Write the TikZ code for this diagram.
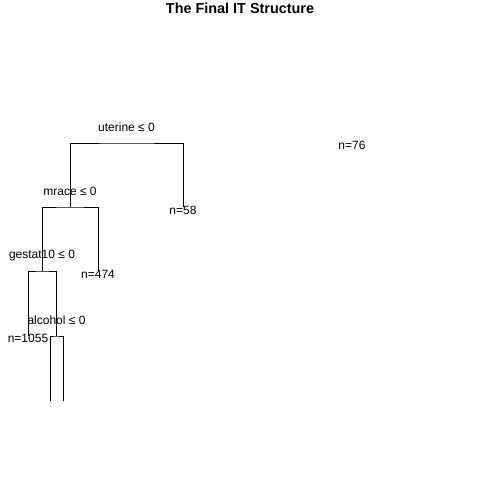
\documentclass[tikz,border=0pt]{standalone}
\usepackage{fontspec}
\setmainfont{Liberation Sans}
\usetikzlibrary{calc}

\tikzset{
  splitlbl/.style={inner sep=0pt},
  leaflbl/.style={inner sep=0pt}
}

\begin{document}
\begin{tikzpicture}[x=1pt,y=-1pt,font=\fontsize{12}{14}\selectfont]
    \useasboundingbox (0,0) rectangle (480,480);
    \node[font=\fontsize{14.4}{17}\selectfont\bfseries] (title) at (240,8.5) {The Final IT Structure};
    % split points and ends
    \coordinate (ut) at (126.5,143);
    \coordinate (mr) at (70,207);
    \coordinate (ge) at (42,271);
    \coordinate (al) at (56,336);
    \coordinate (e58) at (183,207);
    \coordinate (e474) at (98,271);
    \coordinate (e1055) at (28,336);
    \coordinate (eL) at (50,401);
    \coordinate (eR) at (63,401);
    \draw (mr) |- (ut) -| (e58);
    \draw (ge) |- (mr) -| (e474);
    \draw (e1055) |- (ge) -| (al);
    \draw (eL) |- (al) -| (eR);
    % split labels
    \node[splitlbl] (uterine) at ($(ut)+(0,-16)$) {uterine ≤ 0};
    \node[splitlbl] (mrace) at ($(mr)+(0,-15.5)$) {mrace ≤ 0};
    \node[splitlbl] (gestat) at ($(ge)+(0,-15.5)$) {gestat10 ≤ 0};
    \node[splitlbl] (alcohol) at ($(al)+(0.5,-15.5)$) {alcohol ≤ 0};
    % leaves
    \node[leaflbl] (n58) at (183,210) {n=58};
    \node[leaflbl] (n474) at (98,274) {n=474};
    \node[leaflbl] (n1055) at (28,338) {n=1055};
    \node[leaflbl] (n76) at (352,145) {n=76};
\end{tikzpicture}
\end{document}
